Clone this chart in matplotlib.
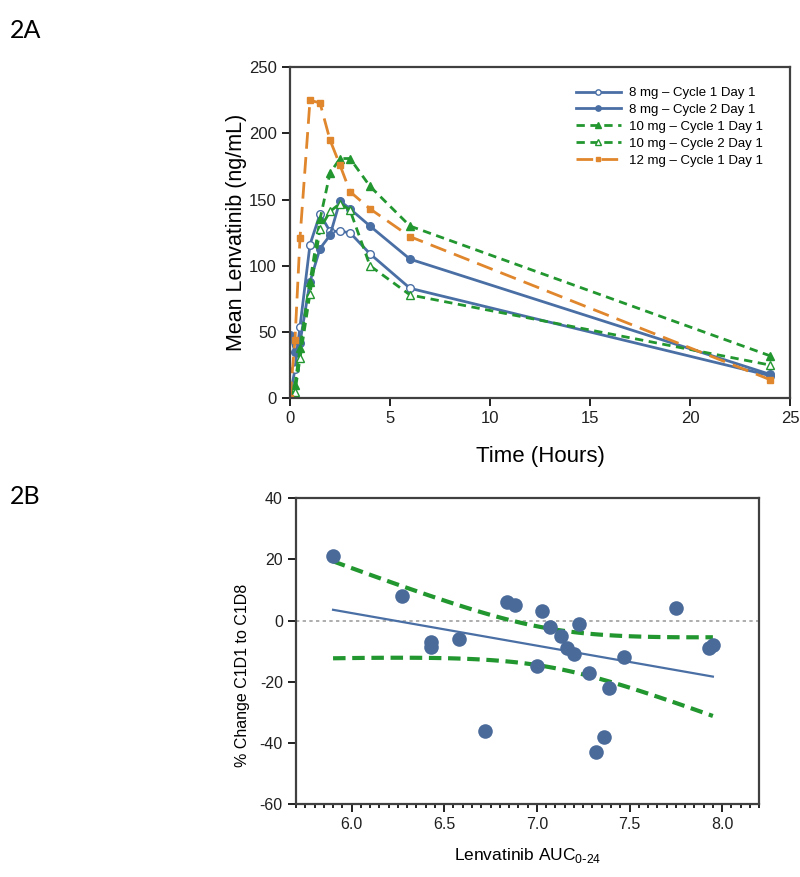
"""
Lenvatinib PK profile (2A) and % change vs AUC (2B).
"""
import numpy as np
import matplotlib
matplotlib.use("Agg")
import matplotlib.pyplot as plt
from matplotlib.ticker import MultipleLocator, FormatStrFormatter

plt.rcParams.update({
    "font.family": ["Liberation Sans", "DejaVu Sans"],
    "axes.linewidth": 1.6,
    "axes.edgecolor": "#404040",
    "axes.unicode_minus": False,
})

BLUE = "#4a6fa5"
GREEN = "#22962f"
ORANGE = "#e0862c"

# ---- 2A data ----
hours = [0, 0.25, 0.5, 1, 1.5, 2, 2.5, 3, 4, 6, 24]
mg8_c1d1 = [1, 22, 54, 116, 139, 126, 126, 125, 109, 83, 17]
mg8_c2d1 = [48, 35, 42, 88, 113, 123, 149, 143, 130, 105, 18]
mg10_c1d1 = [0, 10, 38, 88, 135, 170, 181, 181, 160, 130, 32]
mg10_c2d1 = [0, 5, 30, 79, 128, 141, 147, 142, 100, 78, 25]
mg12_c1d1 = [0, 44, 121, 225, 223, 195, 176, 156, 143, 122, 14]

# ---- 2B data ----
auc = [5.90, 6.27, 6.43, 6.43, 6.58, 6.72, 6.84, 6.88, 7.03, 7.07, 7.00, 7.13,
       7.16, 7.20, 7.23, 7.28, 7.39, 7.47, 7.36, 7.32, 7.75, 7.93, 7.95]
pct_change = [21, 8, -7, -8.5, -6, -36, 6, 5, 3, -2, -15, -5,
              -9, -11, -1, -17, -22, -12, -38, -43, 4, -9, -8]

fig = plt.figure(figsize=(8, 8.77), dpi=100)

# ---------------- 2A ----------------
ax1 = fig.add_axes([0.3625, 0.546, 0.625, 0.3774])
ax1.plot(hours, mg8_c1d1, color=BLUE, lw=2, marker="o", ms=5.5,
         mfc="white", mec=BLUE, mew=1, label="8 mg \u2013 Cycle 1 Day 1")
ax1.plot(hours, mg8_c2d1, color=BLUE, lw=2, marker="o", ms=5.5,
         mfc=BLUE, mec=BLUE, label="8 mg \u2013 Cycle 2 Day 1")
ax1.plot(hours, mg10_c1d1, color=GREEN, lw=2, ls=(0, (3, 2)), marker="^", ms=5.5,
         mfc=GREEN, mec=GREEN, label="10 mg \u2013 Cycle 1 Day 1")
ax1.plot(hours, mg10_c2d1, color=GREEN, lw=2, ls=(0, (3, 2)), marker="^", ms=5.5,
         mfc="white", mec=GREEN, mew=1, label="10 mg \u2013 Cycle 2 Day 1")
ax1.plot(hours, mg12_c1d1, color=ORANGE, lw=2, ls=(0, (6, 3)), marker="s", ms=4.5,
         mfc=ORANGE, mec=ORANGE, label="12 mg \u2013 Cycle 1 Day 1")

ax1.set_xlim(0, 25)
ax1.set_ylim(0, 250)
ax1.xaxis.set_major_locator(MultipleLocator(5))
ax1.yaxis.set_major_locator(MultipleLocator(50))
ax1.tick_params(direction="out", length=6, width=1.4, labelsize=12,
                colors="#202020")
ax1.set_xlabel("Time (Hours)", fontsize=16, labelpad=14)
ax1.set_ylabel("Mean Lenvatinib (ng/mL)", fontsize=15.5)
ax1.yaxis.set_label_coords(-0.086, 0.5)
ax1.legend(loc="upper right", frameon=False, fontsize=9.5, handlelength=3.4,
           borderaxespad=1.1, labelspacing=0.35, handletextpad=0.6,
           markerscale=0.7, bbox_to_anchor=(0.985, 1.0))

# ---------------- 2B ----------------
x = np.array(auc)
y = np.array(pct_change)
n = len(x)
slope, intercept = np.polyfit(x, y, 1)
resid = y - (slope * x + intercept)
s = np.sqrt(np.sum(resid ** 2) / (n - 2))
sxx = np.sum((x - x.mean()) ** 2)
t_crit = 2.08  # t(0.975, df=21)
xf = np.linspace(x.min(), x.max(), 100)
yf = slope * xf + intercept
half = t_crit * s * np.sqrt(1 / n + (xf - x.mean()) ** 2 / sxx)

ax2 = fig.add_axes([0.37, 0.083, 0.579, 0.349])
ax2.axhline(0, color="#a0a0a0", lw=1.2, ls=(0, (2, 2)), zorder=1)
ax2.plot(xf, yf, color=BLUE, lw=1.6, zorder=2)
ax2.plot(xf, yf + half, color=GREEN, lw=3, ls=(0, (3, 1.6)), zorder=2)
ax2.plot(xf, yf - half, color=GREEN, lw=3, ls=(0, (3, 1.6)), zorder=2)
ax2.scatter(x, y, s=110, color="#4a6a9a", zorder=3, linewidths=0)

ax2.set_xlim(5.7, 8.2)
ax2.set_ylim(-60, 40)
ax2.xaxis.set_major_locator(MultipleLocator(0.5))
ax2.xaxis.set_minor_locator(MultipleLocator(0.05))
ax2.yaxis.set_major_locator(MultipleLocator(20))
ax2.xaxis.set_major_formatter(FormatStrFormatter("%.1f"))
ax2.tick_params(direction="out", length=6, width=1.4, labelsize=11.5,
                colors="#202020")
ax2.tick_params(axis="x", which="minor", direction="out", length=3, width=1.2)
ax2.tick_params(axis="x", which="major", pad=3)
ax2.set_xlabel("Lenvatinib AUC$_{\\mathregular{0\\text{-}24}}$", fontsize=12.5,
               labelpad=10)
ax2.set_ylabel("% Change C1D1 to C1D8", fontsize=11.5)
ax2.yaxis.set_label_coords(-0.1, 0.42)

fig.text(0.012, 0.978, "2A", fontsize=18, family=["Lato", "DejaVu Sans"],
         va="top")
fig.text(0.012, 0.447, "2B", fontsize=18, family=["Lato", "DejaVu Sans"],
         va="top")

fig.savefig("out.png", dpi=100)
